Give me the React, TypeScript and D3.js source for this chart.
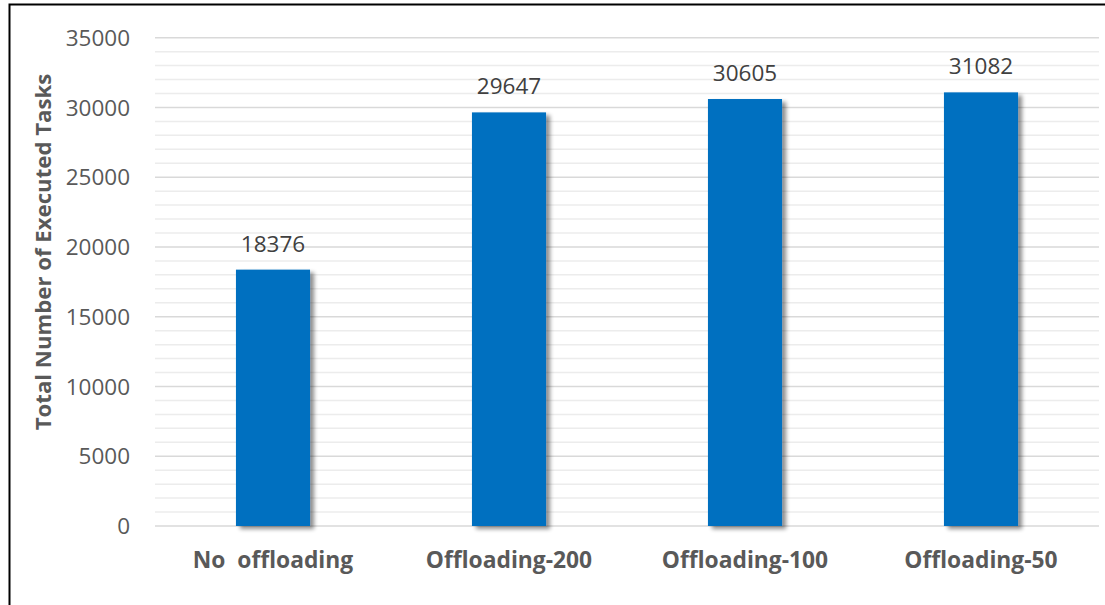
import React from "react";
import * as d3 from "d3";

const categories = ["No  offloading", "Offloading-200", "Offloading-100", "Offloading-50"];
const executedTasks = [18376, 29647, 30605, 31082];
const majorTicks = [0, 5000, 10000, 15000, 20000, 25000, 30000, 35000];
const minorTicks = d3.range(0, 35001, 1000).filter((v) => v % 5000 !== 0);

const W = 1105;
const H = 605;

export default function App() {
  const x = d3.scaleBand<string>().domain(categories).range([155, 1099]).padding(0);
  const y = d3.scaleLinear().domain([0, 35000]).range([526, 37.7]);
  const barW = x.bandwidth() * 0.314;
  const font = "'Open Sans', sans-serif";

  return (
    <svg
      width={W}
      height={H}
      style={{ position: "absolute", left: 0, top: 0, background: "#fff" }}
    >
      <defs>
        <filter id="barShadow" x="-20%" y="-10%" width="150%" height="130%">
          <feGaussianBlur in="SourceAlpha" stdDeviation="2.2" />
          <feOffset dx="3.5" dy="2.5" result="b" />
          <feComponentTransfer>
            <feFuncA type="linear" slope="0.45" />
          </feComponentTransfer>
          <feMerge>
            <feMergeNode />
            <feMergeNode in="SourceGraphic" />
          </feMerge>
        </filter>
      </defs>

      {/* outer frame: top and left edges */}
      <path d={`M9.5,${H} L9.5,4.5 L${W},4.5`} fill="none" stroke="#000" strokeWidth={2} />

      {/* minor gridlines */}
      {minorTicks.map((t) => (
        <line key={"m" + t} x1={155} x2={1099} y1={y(t)} y2={y(t)} stroke="#ececec" strokeWidth={1.5} />
      ))}
      {/* major gridlines */}
      {majorTicks.map((t) => (
        <line key={"M" + t} x1={155} x2={1099} y1={y(t)} y2={y(t)} stroke="#d9d9d9" strokeWidth={1.5} />
      ))}

      {/* y tick labels */}
      {majorTicks.map((t) => (
        <text
          key={"t" + t}
          x={130}
          y={y(t)}
          dy="0.36em"
          textAnchor="end"
          fontFamily={font}
          fontSize={22.5}
          fill="#595959"
        >
          {t}
        </text>
      ))}

      {/* bars */}
      {categories.map((c, i) => {
        const cx = (x(c) as number) + x.bandwidth() / 2;
        return (
          <g key={c}>
            <rect
              x={cx - barW / 2}
              y={y(executedTasks[i])}
              width={barW}
              height={y(0) - y(executedTasks[i])}
              fill="#0070c0"
              filter="url(#barShadow)"
            />
            <text
              x={cx}
              y={y(executedTasks[i]) - 18}
              textAnchor="middle"
              fontFamily={font}
              fontSize={22.5}
              fill="#404040"
            >
              {executedTasks[i]}
            </text>
            <text
              x={cx}
              y={568}
              textAnchor="middle"
              fontFamily={font}
              fontSize={22.8}
              fontWeight="bold"
              fill="#595959"
              style={{ whiteSpace: "pre" }}
            >
              {c}
            </text>
          </g>
        );
      })}

      {/* y axis title */}
      <text
        transform={`translate(51,252) rotate(-90)`}
        textAnchor="middle"
        fontFamily={font}
        fontSize={22.2}
        fontWeight="bold"
        fill="#595959"
      >
        Total Number of Executed Tasks
      </text>
    </svg>
  );
}
